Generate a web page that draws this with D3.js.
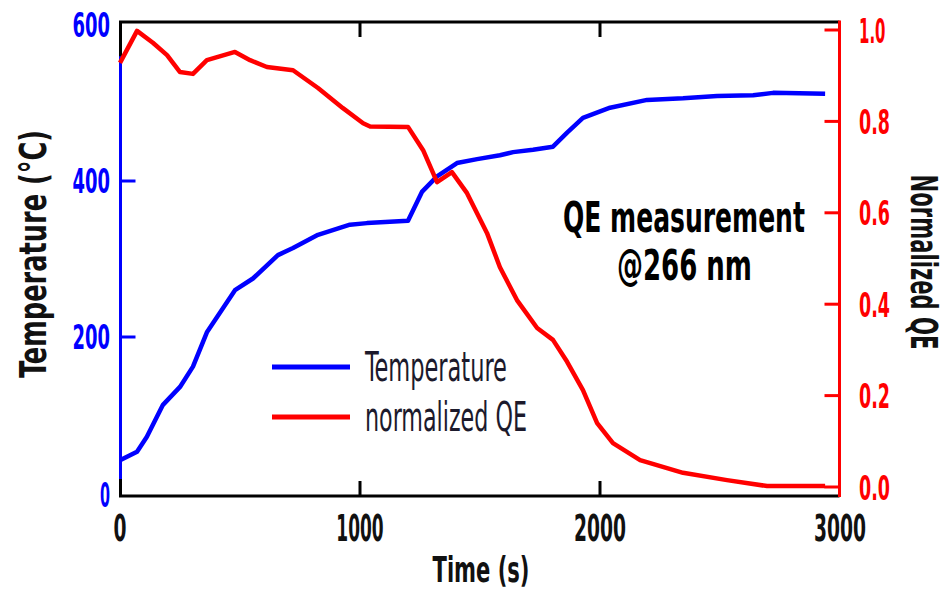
<!DOCTYPE html>
<html>
<head>
<meta charset="utf-8">
<script src="https://cdn.jsdelivr.net/npm/d3@7"></script>
<style>
  html, body { margin: 0; padding: 0; background: #fff; }
  svg { display: block; }
  text { font-family: "DejaVu Sans Condensed", "Liberation Sans Narrow", "DejaVu Sans", sans-serif; }
</style>
</head>
<body>
<svg id="chart" width="946" height="594"></svg>
<script>
// Heating run: sample temperature and normalized quantum efficiency vs. time
const timeTemp = [0, 71, 112, 179, 250, 304, 362, 479, 554, 658, 721, 825, 958, 1029, 1200, 1258, 1321, 1404, 1488, 1583, 1638, 1721, 1804, 1863, 1929, 2042, 2196, 2346, 2488, 2638, 2721, 2938];
const temperature = [42, 53, 72, 113, 136, 162, 206, 260, 275, 305, 314, 331, 344, 346, 349, 386, 406, 423, 428, 433, 437, 440, 444, 462, 481, 494, 504, 506, 509, 510, 513, 512];

const timeQE = [0, 71, 137, 196, 250, 304, 362, 479, 542, 612, 721, 825, 929, 1013, 1042, 1200, 1263, 1321, 1383, 1446, 1529, 1583, 1654, 1738, 1804, 1863, 1929, 1988, 2054, 2167, 2346, 2529, 2696, 2938];
const qe = [0.928, 0.998, 0.972, 0.945, 0.908, 0.904, 0.934, 0.952, 0.934, 0.919, 0.912, 0.873, 0.829, 0.796, 0.789, 0.788, 0.737, 0.667, 0.689, 0.643, 0.556, 0.481, 0.409, 0.348, 0.322, 0.274, 0.212, 0.140, 0.096, 0.059, 0.031, 0.015, 0.002, 0.002];

const timeTicks = [0, 1000, 2000, 3000];
const tempTicks = [0, 200, 400, 600];
const qeTicks = [0, 0.2, 0.4, 0.6, 0.8, 1.0];

const legendLabels = ["Temperature", "normalized QE"];
const noteLines = ["QE measurement", "@266 nm"];

const BLUE = "#0000ff", RED = "#ff0000", INK = "#000";

const svg = d3.select("#chart");

const x = d3.scaleLinear().domain([0, 3000]).range([120, 840]);
const yT = d3.scaleLinear().domain([0, 600]).range([493, 25]);
const yQ = d3.scaleLinear().domain([0, 1]).range([487, 30]);

const frameTop = 22, frameBottom = 496, frameLeft = 120.5, frameRight = 839.5;

// squeeze a text element horizontally to a given width (narrow display face look)
function fitWidth(sel, w) {
  sel.each(function (d) {
    const el = d3.select(this);
    const target = typeof w === "function" ? w(d) : w;
    const natural = this.getComputedTextLength();
    const px = +el.attr("x") || 0, py = +el.attr("y") || 0;
    const base = el.attr("transform") || "";
    el.attr("x", 0).attr("y", 0)
      .attr("transform", `${base} translate(${px},${py}) scale(${target / natural},1)`);
  });
  return sel;
}
// advance widths of the narrow numerals
function numWidth(str, digit) {
  let w = 0;
  for (const c of String(str)) w += c === "1" ? digit * 0.64 : c === "." ? digit * 0.48 : digit;
  return w;
}

// frame
svg.append("line").attr("x1", frameLeft - 1.5).attr("x2", frameRight).attr("y1", frameTop).attr("y2", frameTop)
  .attr("stroke", INK).attr("stroke-width", 3);
svg.append("line").attr("x1", frameLeft - 1.5).attr("x2", frameRight).attr("y1", frameBottom).attr("y2", frameBottom)
  .attr("stroke", INK).attr("stroke-width", 3);
svg.append("line").attr("x1", frameLeft).attr("x2", frameLeft).attr("y1", frameTop).attr("y2", frameBottom)
  .attr("stroke", INK).attr("stroke-width", 3);
svg.append("line").attr("x1", frameLeft).attr("x2", frameLeft).attr("y1", yT(560)).attr("y2", yT(18))
  .attr("stroke", BLUE).attr("stroke-width", 3);
svg.append("line").attr("x1", frameRight).attr("x2", frameRight).attr("y1", frameTop - 1.5).attr("y2", frameBottom + 1)
  .attr("stroke", RED).attr("stroke-width", 3);

// time ticks (top and bottom, inward)
const innerT = timeTicks.filter(d => d > 0 && d < 3000);
svg.selectAll(".tx-b").data(innerT).join("line")
  .attr("x1", d => x(d)).attr("x2", d => x(d)).attr("y1", frameBottom).attr("y2", frameBottom - 15)
  .attr("stroke", INK).attr("stroke-width", 3);
svg.selectAll(".tx-t").data(innerT).join("line")
  .attr("x1", d => x(d)).attr("x2", d => x(d)).attr("y1", frameTop).attr("y2", frameTop + 15)
  .attr("stroke", INK).attr("stroke-width", 3);
svg.selectAll(".tx-l").data(timeTicks).join("text")
  .attr("x", d => x(d)).attr("y", 541).attr("text-anchor", "middle")
  .attr("font-size", 37).attr("font-weight", "bold").attr("fill", "#111")
  .text(d => d).call(fitWidth, d => numWidth(d, 13));

// temperature ticks (left, blue)
svg.selectAll(".ty").data(tempTicks.filter(d => d > 0 && d < 600)).join("line")
  .attr("x1", frameLeft).attr("x2", frameLeft + 15).attr("y1", d => yT(d)).attr("y2", d => yT(d))
  .attr("stroke", BLUE).attr("stroke-width", 3);
svg.selectAll(".ty-l").data(tempTicks).join("text")
  .attr("x", 110).attr("y", d => (d === 0 ? 507 : yT(d) + 12)).attr("text-anchor", "end")
  .attr("font-size", 33).attr("font-weight", "bold").attr("fill", BLUE)
  .text(d => d).call(fitWidth, d => numWidth(d, d === 0 ? 10 : 12.5));

// QE ticks (right, red)
svg.selectAll(".tq").data(qeTicks).join("line")
  .attr("x1", frameRight).attr("x2", frameRight - 15).attr("y1", d => yQ(d)).attr("y2", d => yQ(d))
  .attr("stroke", RED).attr("stroke-width", 3);
svg.selectAll(".tq-l").data(qeTicks).join("text")
  .attr("x", 859).attr("y", d => yQ(d) + 12.5).attr("text-anchor", "start")
  .attr("font-size", 34).attr("font-weight", "bold").attr("fill", RED)
  .text(d => d.toFixed(1)).call(fitWidth, d => numWidth(d.toFixed(1), 12.5));

// axis titles
svg.append("text").attr("x", 481).attr("y", 582).attr("text-anchor", "middle")
  .attr("font-size", 35).attr("font-weight", "bold").attr("fill", "#111")
  .text("Time (s)").call(fitWidth, 97);
svg.append("text").attr("transform", "translate(46,254) rotate(-90)").attr("text-anchor", "middle")
  .attr("font-size", 38).attr("font-weight", "bold").attr("fill", "#111")
  .text("Temperature (°C)").call(fitWidth, 248);
svg.append("text").attr("transform", "translate(911,262) rotate(90)").attr("text-anchor", "middle")
  .attr("font-size", 37).attr("font-weight", "bold").attr("fill", "#111")
  .text("Normalized QE").call(fitWidth, 175);

// data lines
const lineT = d3.line().x((d, i) => x(timeTemp[i])).y(d => yT(d));
const lineQ = d3.line().x((d, i) => x(timeQE[i])).y(d => yQ(d));
svg.append("path").datum(temperature).attr("d", lineT)
  .attr("fill", "none").attr("stroke", BLUE).attr("stroke-width", 4.5)
  .attr("stroke-linejoin", "round").attr("stroke-linecap", "butt");
svg.append("path").datum(qe).attr("d", lineQ)
  .attr("fill", "none").attr("stroke", RED).attr("stroke-width", 4.5)
  .attr("stroke-linejoin", "round").attr("stroke-linecap", "butt");

// legend
const legendColors = [BLUE, RED];
const legendWidths = [142, 162];
const lg = svg.append("g");
legendLabels.forEach((label, i) => {
  const cy = 367 + i * 50;
  lg.append("line").attr("x1", 272).attr("x2", 350).attr("y1", cy).attr("y2", cy)
    .attr("stroke", legendColors[i]).attr("stroke-width", 5);
  lg.append("text").attr("x", 365).attr("y", cy + 14).attr("font-size", 40)
    .attr("fill", "#1c1a2c").text(label).call(fitWidth, legendWidths[i]);
});

// annotation
svg.append("text").attr("x", 563).attr("y", 232)
  .attr("font-size", 43).attr("font-weight", "bold").attr("fill", INK)
  .text(noteLines[0]).call(fitWidth, 242);
svg.append("text").attr("x", 617).attr("y", 280)
  .attr("font-size", 43).attr("font-weight", "bold").attr("fill", INK)
  .text(noteLines[1]).call(fitWidth, 135);
</script>
</body>
</html>
